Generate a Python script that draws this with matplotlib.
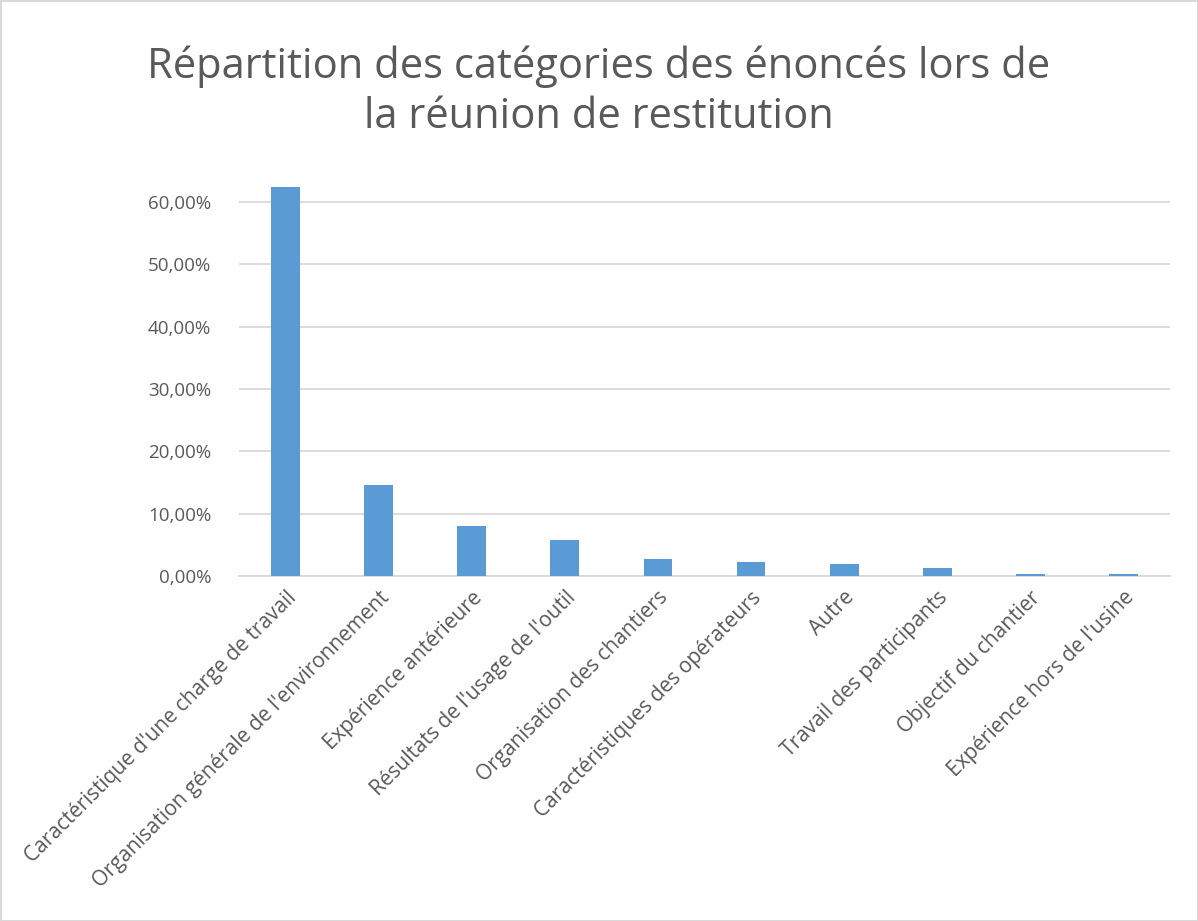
import matplotlib
matplotlib.use("Agg")
import matplotlib.pyplot as plt
from matplotlib.ticker import FuncFormatter

plt.rcParams["font.family"] = ["Open Sans", "DejaVu Sans"]

categories = [
    "Caractéristique d'une charge de travail",
    "Organisation générale de l'environnement",
    "Expérience antérieure",
    "Résultats de l'usage de l'outil",
    "Organisation des chantiers",
    "Caractéristiques des opérateurs",
    "Autre",
    "Travail des participants",
    "Objectif du chantier",
    "Expérience hors de l'usine",
]
values = [0.624, 0.146, 0.081, 0.058, 0.028, 0.022, 0.019, 0.013, 0.004, 0.004]
yticks = [0, 0.1, 0.2, 0.3, 0.4, 0.5, 0.6]

grey = "#595959"

fig = plt.figure(figsize=(11.98, 9.21), dpi=100)
fig.patch.set_edgecolor("#D9D9D9")
fig.patch.set_linewidth(2)
ax = fig.add_axes([0.1995, 0.3746, 0.7771, 0.4397])

x = range(len(categories))
ax.bar(x, values, width=0.31, color="#5B9BD5", zorder=3)

ax.set_xlim(-0.5, len(categories) - 0.5)
ax.set_ylim(0, 0.65)
ax.set_yticks(yticks)
ax.yaxis.set_major_formatter(FuncFormatter(lambda v, p: f"{v*100:.2f}%".replace(".", ",")))
ax.grid(axis="y", color="#D9D9D9", linewidth=1.3, zorder=0)
for s in ["top", "right", "left"]:
    ax.spines[s].set_visible(False)
ax.spines["bottom"].set_color("#D9D9D9")
ax.spines["bottom"].set_linewidth(1.3)
ax.tick_params(axis="y", length=0, pad=20, labelsize=13.5, labelcolor=grey)
ax.tick_params(axis="x", length=0, pad=8, labelsize=15, labelcolor=grey)
ax.set_xticks(list(x))
ax.set_xticklabels(categories, rotation=45, ha="right", rotation_mode="anchor")

fig.text(0.5, 0.9, "Répartition des catégories des énoncés lors de\nla réunion de restitution",
         ha="center", va="center", fontsize=30, color=grey, linespacing=1.25)

fig.savefig("out.png", dpi=100, edgecolor=fig.get_edgecolor())
